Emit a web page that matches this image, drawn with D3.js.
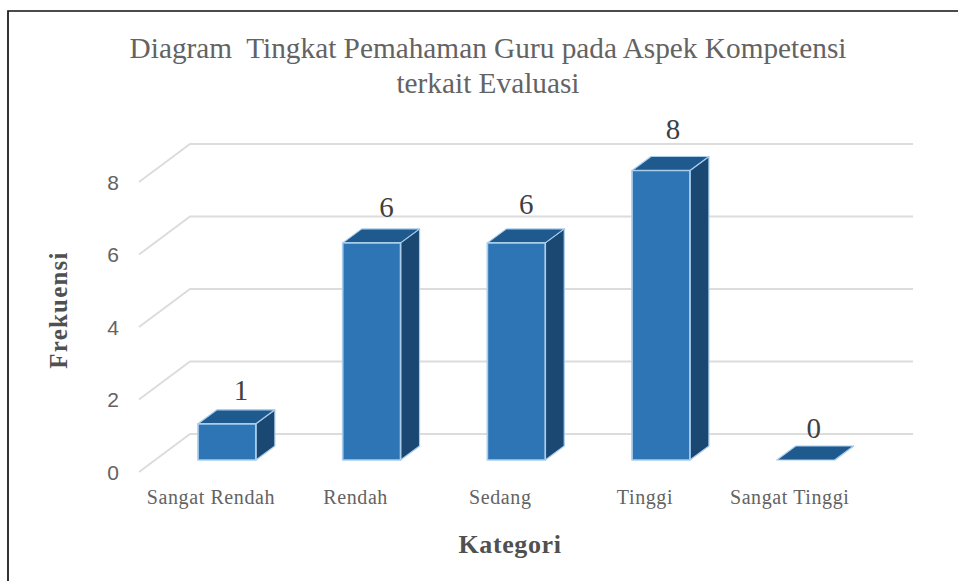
<head>
    <title>Diagram Tingkat Pemahaman Guru</title>
    <script src="https://d3js.org/d3.v7.min.js"></script>
    <style>
        html, body { margin: 0; background: white; }
        svg { display: block; }
        text { font-family: "Liberation Serif", serif; }
        .title { font-size: 29.3px; fill: #636363; text-anchor: middle; }
        .tick text { fill: #636363; }
        .grid { stroke: #dcdcdc; stroke-width: 2px; fill: none; }
        .front { fill: #2e75b6; stroke: #a9cdeb; stroke-width: 1.7px; stroke-linejoin: round; }
        .top { fill: #1f5a8f; stroke: #a9cdeb; stroke-width: 1.2px; stroke-linejoin: round; }
        .side { fill: #1b4873; stroke: #a9cdeb; stroke-width: 1.2px; stroke-linejoin: round; }
        .value { font-size: 29px; fill: #404040; text-anchor: middle; }
        .axis-title { font-weight: bold; fill: #505050; text-anchor: middle; }
    </style>
</head>
<body>
    <div class="container"></div>
    <script>
        let categories = ["Sangat Rendah", "Rendah", "Sedang", "Tinggi", "Sangat Tinggi"];
        let values = [1, 6, 6, 8, 0];
        let yTicks = [0, 2, 4, 6, 8];
        let titleLines = ["Diagram  Tingkat Pemahaman Guru pada Aspek Kompetensi", "terkait Evaluasi"];

        // label nudges, the labels sit a bit unevenly in the original
        let labelNudge = [[1, 2], [2, 0], [-3, -3], [-1, -6], [-5, 4]];

        let svg = d3.select(".container").append("svg").attr("width", 958).attr("height", 581);

        // 3d offsets
        let barDx = 19, barDy = -14;
        let floorDx = 51, floorDy = -38;

        let x = d3.scaleBand().domain(categories).range([154.6, 878]).paddingInner(0.6).paddingOuter(0.3);
        let y = d3.scaleLinear().domain([0, 8]).range([460, 170.5]);
        let frontY = d3.scaleLinear().domain([0, 8]).range([472, 182]);

        // picture frame, only top and left are visible
        svg.append("path")
            .attr("d", "M8,581V11H958")
            .attr("fill", "none")
            .attr("stroke", "#111")
            .attr("stroke-width", 1.7);

        svg.selectAll(".title")
            .data(titleLines)
            .enter().append("text")
            .attr("class", "title")
            .attr("x", 488)
            .attr("y", function(d, i){ return 58 + i * 34.5; })
            .style("white-space", "pre")
            .text(function(d){ return d; });

        let gridX0 = 139, gridX1 = 913;
        svg.append("g").selectAll("path")
            .data(yTicks)
            .enter().append("path")
            .attr("class", "grid")
            .attr("d", function(d){
                let yy = frontY(d);
                return "M" + gridX0 + "," + yy + "L" + (gridX0 + floorDx) + "," + (yy + floorDy) + "H" + gridX1;
            });

        let bars = svg.append("g").selectAll("g")
            .data(values)
            .enter().append("g");

        bars.append("path")
            .attr("class", "side")
            .attr("d", function(d, i){
                let r = x(categories[i]) + x.bandwidth();
                return "M" + r + "," + y(0) + "V" + y(d) + "l" + barDx + "," + barDy + "V" + (y(0) + barDy) + "Z";
            });
        bars.append("path")
            .attr("class", "top")
            .attr("d", function(d, i){
                let l = x(categories[i]);
                return "M" + l + "," + y(d) + "l" + barDx + "," + barDy + "h" + x.bandwidth() + "l" + (-barDx) + "," + (-barDy) + "Z";
            });
        bars.append("rect")
            .attr("class", "front")
            .attr("x", function(d, i){ return x(categories[i]); })
            .attr("y", function(d){ return y(d); })
            .attr("width", x.bandwidth())
            .attr("height", function(d){ return y(0) - y(d); })
            .style("display", function(d){ return d == 0 ? "none" : null; });

        bars.append("text")
            .attr("class", "value")
            .attr("x", function(d, i){ return x(categories[i]) + x.bandwidth() / 2 + 13 + labelNudge[i][0]; })
            .attr("y", function(d, i){ return y(d) - 26 + labelNudge[i][1]; })
            .text(function(d){ return d; });

        let yAxis = d3.axisLeft(frontY)
            .tickValues(yTicks).tickSize(0).tickPadding(0);
        let yg = svg.append("g").attr("transform", "translate(119,0)").call(yAxis);
        yg.select(".domain").remove();
        yg.selectAll("text").style("font-size", "21px").attr("dy", "0.35em").style("font-family", "'Liberation Sans'");

        let xAxis = d3.axisBottom(d3.scaleBand().domain(categories).range([154.6 - 16, 878 - 16]))
            .tickSize(0).tickPadding(0);
        let xg = svg.append("g").attr("transform", "translate(0,490)").call(xAxis);
        xg.select(".domain").remove();
        xg.selectAll("text")
            .style("font-size", "20px")
            .style("letter-spacing", "0.6px")
            .style("font-family", "'Liberation Serif'");

        svg.append("text")
            .attr("class", "axis-title")
            .attr("transform", "translate(67,310) rotate(-90)")
            .style("font-size", "25px")
            .style("letter-spacing", "1.2px")
            .text("Frekuensi");
        svg.append("text")
            .attr("class", "axis-title")
            .attr("x", 510)
            .attr("y", 553)
            .style("font-size", "26px")
            .style("letter-spacing", "0.6px")
            .text("Kategori");
    </script>
</body>
